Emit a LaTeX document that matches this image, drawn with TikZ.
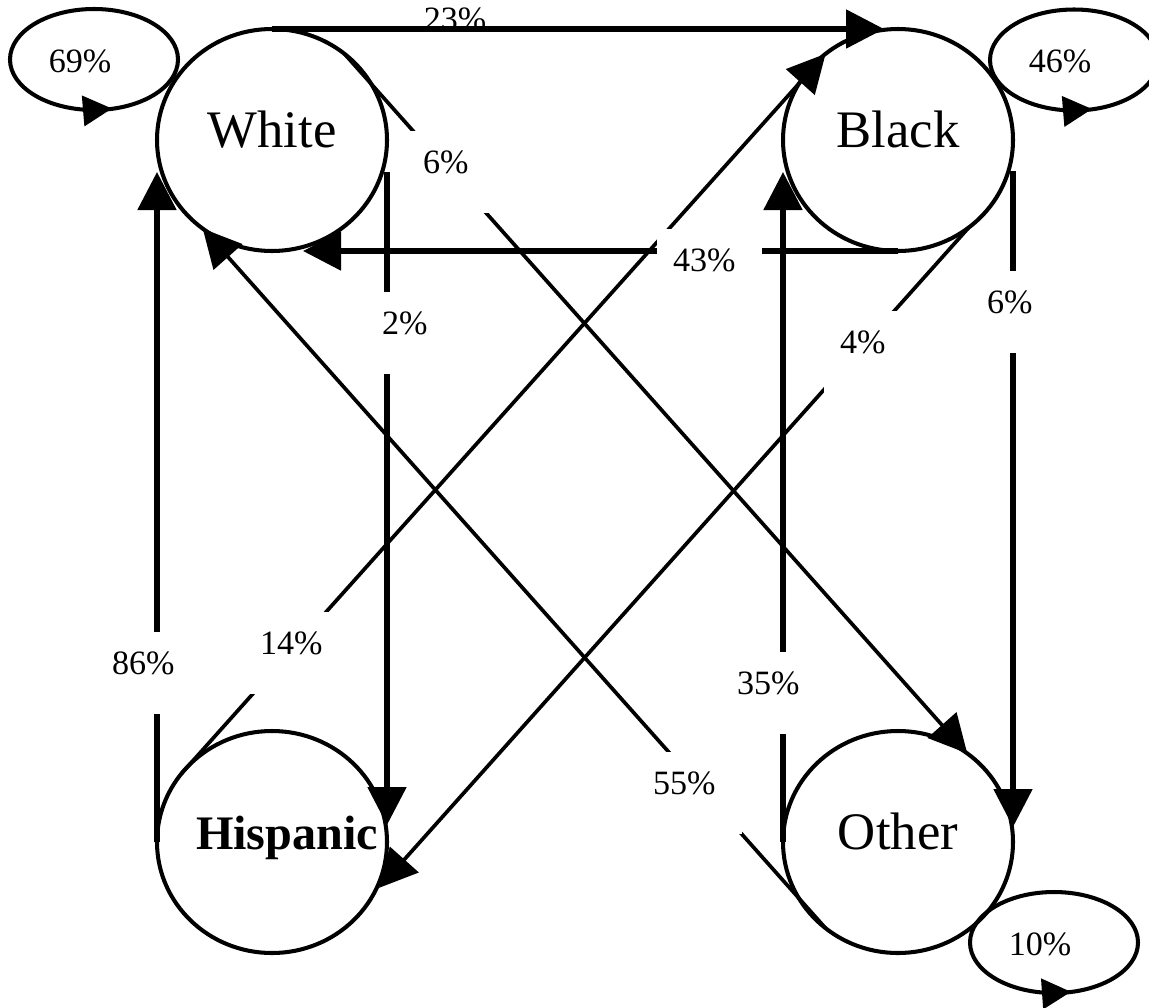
\documentclass[tikz,border=0pt]{standalone}
\usepackage{fontspec}
\setmainfont{Liberation Serif}
\usetikzlibrary{arrows.meta,shapes.geometric}

\begin{document}
\begin{tikzpicture}[x=1cm,y=-1cm,
    font=\fontsize{9.7}{11}\selectfont,
    group/.style={ellipse,draw,line width=1.15pt,minimum width=2.3cm,minimum height=2.22cm,inner sep=0pt,outer sep=0pt,text height=0.4cm,text depth=0.25cm,font=\fontsize{15}{18}\selectfont},
    ring/.style={ellipse,draw,line width=1.15pt,minimum width=1.68cm,minimum height=1.01cm,inner sep=0pt,outer sep=0pt},
    flow/.style={line width=1.5pt,-{Triangle[length=0.38cm,width=0.38cm]}},
    cross/.style={line width=1.05pt,-{Triangle[length=0.38cm,width=0.38cm]}},
    turn/.style={line width=1.15pt,-{Triangle[length=0.29cm,width=0.3cm]}},
    pct/.style={fill=white,inner ysep=0pt,inner xsep=0.16cm,text width=0.73cm,align=left,text height=0.42cm,text depth=0.4cm}]
    \useasboundingbox (0,0) rectangle (11.49,10.07);
    \node[group] (W) at (2.72,1.40) {White};
    \node[group] (B) at (8.98,1.40) {Black};
    \node[group,font=\fontsize{13.7}{16}\selectfont\bfseries] (H) at (2.72,8.42) {\makebox[0pt]{\hspace*{0.3cm}Hispanic}};
    \node[group] (O) at (8.98,8.42) {Other};
    \node[ring] (lW) at (0.94,0.595) {};
    \node[ring] (lB) at (10.74,0.60) {};
    \node[ring] (lO) at (10.54,9.425) {};
    \node (tW) at (0.80,0.61) {69\%};
    \node (tB) at (10.60,0.61) {46\%};
    \node (tO) at (10.40,9.44) {10\%};
    \node (tWB) at (4.55,0.19) {23\%};
    \draw[turn] (lW.south) -- ++(0.18,-0.015);
    \draw[turn] (lB.south) -- ++(0.18,-0.015);
    \draw[turn] (lO.south) -- ++(0.17,-0.012);
    \draw[flow] (W.north) -- ([xshift=-0.14cm]B.north);
    \draw[flow] ([yshift=-0.32cm]W.east) -- ([yshift=0.17cm]H.east);
    \draw[flow] (B.south) -- ([xshift=0.31cm]W.south);
    \draw[flow] ([yshift=-0.31cm]B.east) -- ([yshift=0.15cm]O.east);
    \draw[flow] (H.west) -- ([yshift=-0.32cm]W.west);
    \draw[flow] (O.west) -- ([yshift=-0.32cm]B.west);
    \draw[cross] (W.50) -- (O.52);
    \draw[cross] (H.143) -- (B.130);
    \draw[cross,shorten >=0.08cm] (B.-51) -- (H.-27);
    \draw[cross] (O.230) -- (W.232);
    \node[pct] (pWO) at (4.595,1.72) {6\%};
    \node[pct] (pWH) at (4.185,3.33) {2\%};
    \node[pct] (pBW) at (7.095,2.70) {43\%};
    \node[pct] (pBH) at (8.765,3.52) {4\%};
    \node[pct] (pBO) at (10.235,3.12) {6\%};
    \node[pct] (pHB) at (2.965,6.53) {14\%};
    \node[pct] (pHW) at (1.485,6.73) {86\%};
    \node[pct] (pOB) at (7.735,6.93) {35\%};
    \node[pct] (pOW) at (6.895,7.93) {55\%};
\end{tikzpicture}
\end{document}
